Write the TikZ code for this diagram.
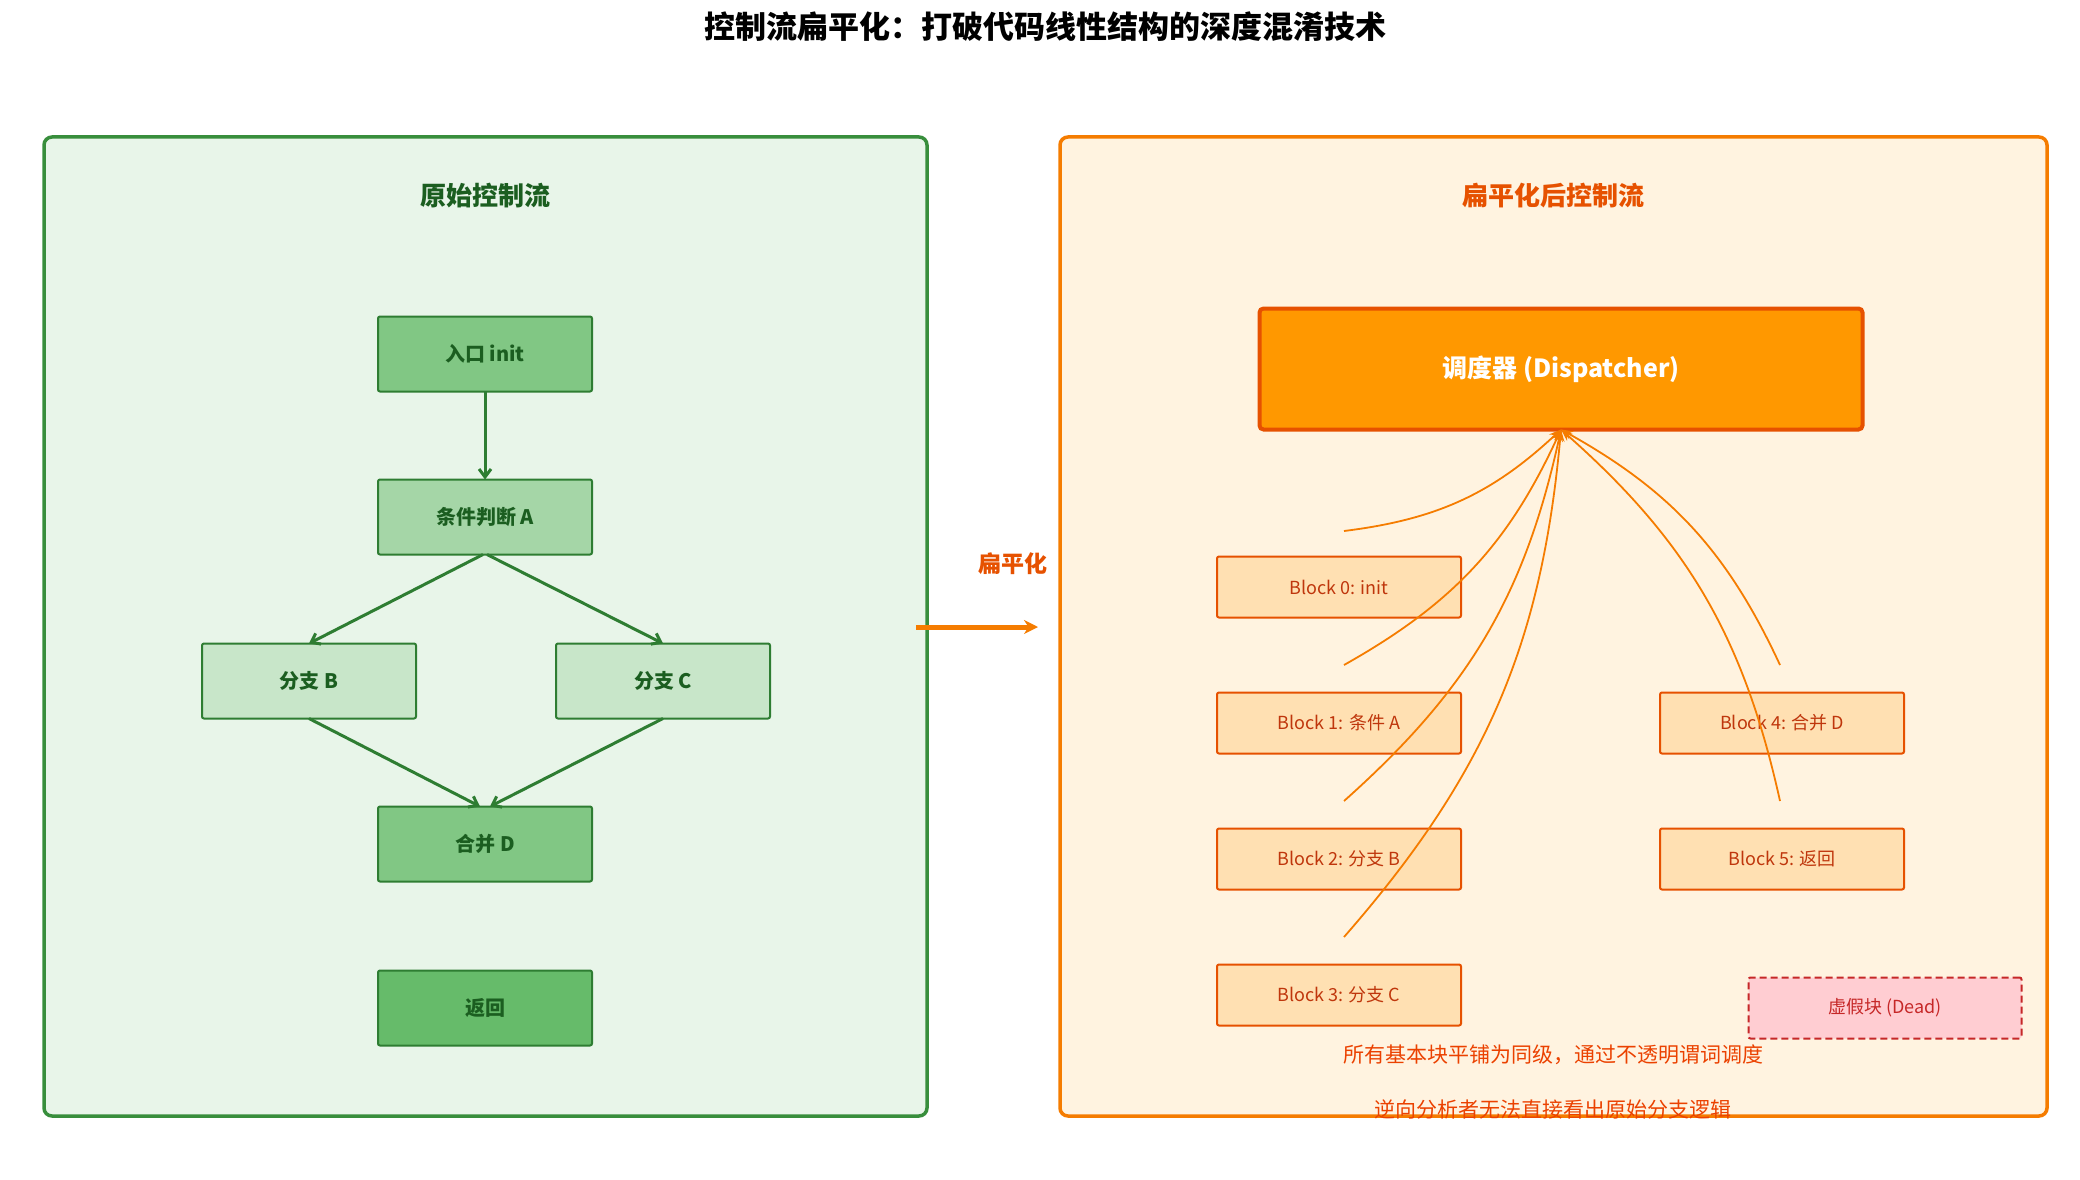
\documentclass[tikz,border=0pt]{standalone}
\usepackage{fontspec}
\setmainfont{Noto Sans CJK SC}
\usetikzlibrary{arrows.meta}
\definecolor{gB}{HTML}{388E3C}\definecolor{gF}{HTML}{E8F5E9}\definecolor{gT}{HTML}{1B5E20}
\definecolor{gE}{HTML}{2E7D32}
\definecolor{g1}{HTML}{81C784}\definecolor{g2}{HTML}{A5D6A7}\definecolor{g3}{HTML}{C8E6C9}\definecolor{g4}{HTML}{66BB6A}
\definecolor{oB}{HTML}{F57C00}\definecolor{oF}{HTML}{FFF3E0}\definecolor{oT}{HTML}{E65100}
\definecolor{blk}{HTML}{FFE0B2}\definecolor{blkT}{HTML}{BF360C}
\definecolor{dF}{HTML}{FFCDD2}\definecolor{dB}{HTML}{C62828}
\begin{document}
\begin{tikzpicture}[x=1pt,y=-1pt,
 every node/.style={inner sep=0pt, outer sep=0pt},
 panel/.style={draw, line width=3.5pt, rounded corners=8pt},
 gnode/.style={draw=gE, line width=2pt, rounded corners=2pt, minimum width=214pt, minimum height=75pt, text=gT, font=\fontsize{20}{24}\selectfont\bfseries},
 garr/.style={draw=gE, line width=3pt, -{Straight Barb[length=8pt,width=12pt]}},
 blk/.style={draw=oT, fill=blk, line width=2pt, rounded corners=2pt, minimum width=244pt, minimum height=61pt, text=blkT, font=\fontsize{18}{21}\selectfont},
 carr/.style={draw=oB, line width=1.8pt, -{Stealth[length=12pt,width=9pt]}, bend right=18}]
\useasboundingbox (0,0) rectangle (2080,1180);
\node[font=\fontsize{31}{36}\selectfont\bfseries] (title) at (1045,27) {控制流扁平化：打破代码线性结构的深度混淆技术};
% left panel
\node[panel, draw=gB, fill=gF, minimum width=883pt, minimum height=979pt] (lp) at (485.5,626.5) {};
\node[text=gT, font=\fontsize{26}{30}\selectfont\bfseries] (lt) at (485,196) {原始控制流};
\node[gnode, fill=g1] (init) at (485,354) {入口 init};
\node[gnode, fill=g2] (a) at (485,517) {条件判断 A};
\node[gnode, fill=g3] (b) at (309,681) {分支 B};
\node[gnode, fill=g3] (c) at (663,681) {分支 C};
\node[gnode, fill=g1] (d) at (485,844) {合并 D};
\node[gnode, fill=g4] (r) at (485,1008) {返回};
\draw[garr] (init.south) -- (a.north);
\draw[garr] ([xshift=-2pt]a.south) -- (b.north);
\draw[garr] ([xshift=2pt]a.south) -- (c.north);
\draw[garr] (b.south) -- ([xshift=-5pt]d.north);
\draw[garr] (c.south) -- ([xshift=5pt]d.north);
% middle arrow
\coordinate (m1) at (916,627); \coordinate (m2) at (1038,627);
\draw[oB, line width=5pt, -{Stealth[length=14pt,width=14pt]}] (m1) -- (m2);
\node[text=oT, font=\fontsize{23}{27}\selectfont\bfseries] (ml) at (1013,564) {扁平化};
% right panel
\node[panel, draw=oB, fill=oF, minimum width=987pt, minimum height=979pt] (rp) at (1553.5,626.5) {};
\node[text=oT, font=\fontsize{26}{30}\selectfont\bfseries] (rt) at (1553,196) {扁平化后控制流};
\node[draw=oT, fill={rgb,255:red,255;green,152;blue,0}, line width=4pt, rounded corners=4pt, minimum width=603pt, minimum height=121pt, text=white, font=\fontsize{25}{29}\selectfont\bfseries] (disp) at (1561,369) {调度器 (Dispatcher)};
\node[blk] (b0) at (1339,587) {Block 0: init};
\node[blk] (b1) at (1339,723) {Block 1: 条件 A};
\node[blk] (b2) at (1339,859) {Block 2: 分支 B};
\node[blk] (b3) at (1339,995) {Block 3: 分支 C};
\node[blk] (b4) at (1782,723) {Block 4: 合并 D};
\node[blk] (b5) at (1782,859) {Block 5: 返回};
\node[draw=dB, fill=dF, line width=2pt, dash pattern=on 7pt off 4pt, rounded corners=2pt, minimum width=273pt, minimum height=61pt, text=dB, font=\fontsize{18}{21}\selectfont] (dead) at (1885,1008) {虚假块 (Dead)};
\coordinate (s0) at (1344,531); \coordinate (s1) at (1344,665);
\coordinate (s2) at (1344,801); \coordinate (s3) at (1344,937);
\coordinate (s4) at (1780,665); \coordinate (s5) at (1780,801);
\foreach \s in {s0,s1,s2,s3,s4,s5} \draw[carr] (\s) to (disp.south);
\node[text=oT!80!red, font=\fontsize{21}{25}\selectfont] (n1) at (1553,1055) {所有基本块平铺为同级，通过不透明谓词调度};
\node[text=oT!80!red, font=\fontsize{21}{25}\selectfont] (n2) at (1553,1109) {逆向分析者无法直接看出原始分支逻辑};
\end{tikzpicture}
\end{document}
